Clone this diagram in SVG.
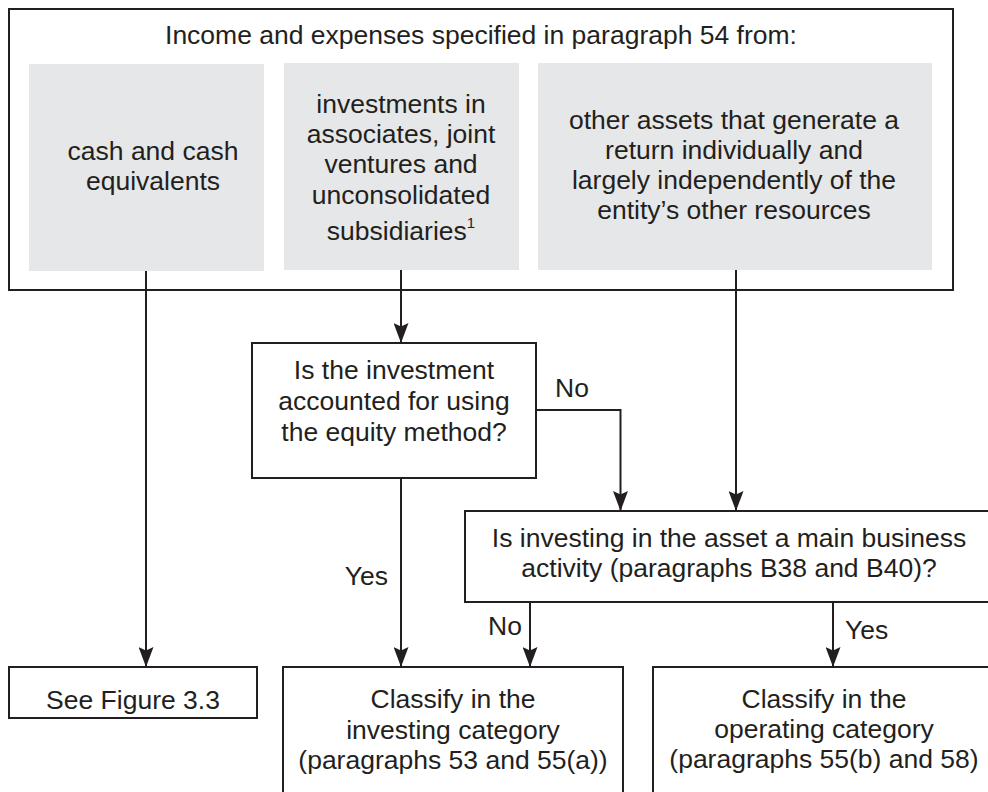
<svg xmlns="http://www.w3.org/2000/svg" width="988" height="792" viewBox="0 0 988 792">
<defs>
<style>
text{font-family:"Liberation Sans",Arial,Helvetica,sans-serif;font-size:26.5px;fill:#231f20;}
.c{text-anchor:middle;}
.box{fill:#ffffff;stroke:#231f20;stroke-width:2;}
.gray{fill:#e6e7e8;stroke:none;}
.ln{fill:none;stroke:#231f20;stroke-width:2;}
</style>
<marker id="arr" viewBox="0 0 20 15" markerWidth="20" markerHeight="15" refX="20" refY="7.5" orient="auto" markerUnits="userSpaceOnUse">
<path d="M0,0 L20,7.5 L0,15 L3.5,7.5 Z" fill="#231f20"/>
</marker>
</defs>
<rect width="988" height="792" fill="#ffffff"/>

<g id="source">
<rect class="box" x="9" y="9" width="944" height="281"/>
<text class="c" x="481" y="44">Income and expenses specified in paragraph 54 from:</text>
</g>
<g id="cash">
<rect class="gray" x="29" y="64" width="235" height="207"/>
<text class="c" x="153" y="160">cash and cash</text>
<text class="c" x="153" y="190">equivalents</text>
</g>
<g id="investments">
<rect class="gray" x="284" y="63" width="235" height="207"/>
<text class="c" x="401" y="113">investments in</text>
<text class="c" x="401" y="143">associates, joint</text>
<text class="c" x="401" y="173">ventures and</text>
<text class="c" x="401" y="204">unconsolidated</text>
<text class="c" x="401" y="240">subsidiaries<tspan font-size="15" dy="-12">1</tspan></text>
</g>
<g id="other">
<rect class="gray" x="538" y="63" width="394" height="207"/>
<text class="c" x="734" y="129">other assets that generate a</text>
<text class="c" x="734" y="159">return individually and</text>
<text class="c" x="734" y="189">largely independently of the</text>
<text class="c" x="734" y="219">entity’s other resources</text>
</g>

<g id="q-equity">
<rect class="box" x="252" y="343" width="284" height="135"/>
<text class="c" x="394" y="379">Is the investment</text>
<text class="c" x="394" y="410">accounted for using</text>
<text class="c" x="394" y="441">the equity method?</text>
</g>
<g id="q-main">
<rect class="box" x="465" y="511" width="530" height="91"/>
<text class="c" x="729" y="547">Is investing in the asset a main business</text>
<text class="c" x="729" y="577">activity (paragraphs B38 and B40)?</text>
</g>
<g id="see-figure">
<rect class="box" x="9" y="667" width="248" height="51"/>
<text class="c" x="133" y="709">See Figure 3.3</text>
</g>
<g id="investing">
<rect class="box" x="283" y="667" width="340" height="140"/>
<text class="c" x="453" y="708">Classify in the</text>
<text class="c" x="453" y="739">investing category</text>
<text class="c" x="453" y="769">(paragraphs 53 and 55(a))</text>
</g>
<g id="operating">
<rect class="box" x="653" y="667" width="342" height="140"/>
<text class="c" x="824" y="708">Classify in the</text>
<text class="c" x="824" y="738">operating category</text>
<text class="c" x="824" y="768">(paragraphs 55(b) and 58)</text>
</g>

<g id="connectors">
<path class="ln" d="M146,271 V667" marker-end="url(#arr)"/>
<path class="ln" d="M401,270 V343" marker-end="url(#arr)"/>
<path class="ln" d="M736,270 V511" marker-end="url(#arr)"/>
<path class="ln" d="M536,410 H620.5 V511" marker-end="url(#arr)"/>
<path class="ln" d="M401,478 V667" marker-end="url(#arr)"/>
<path class="ln" d="M530,602 V667" marker-end="url(#arr)"/>
<path class="ln" d="M833,602 V667" marker-end="url(#arr)"/>
<text x="555" y="397">No</text>
<text x="388" y="585" text-anchor="end">Yes</text>
<text x="522" y="635" text-anchor="end">No</text>
<text x="845" y="639">Yes</text>
</g>
</svg>
